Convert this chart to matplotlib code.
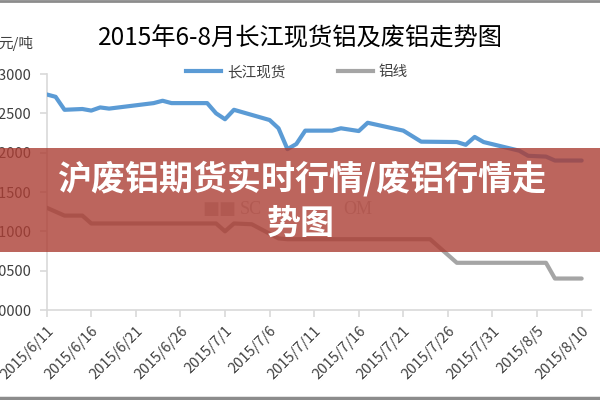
import matplotlib
matplotlib.use("Agg")
import matplotlib.pyplot as plt
import numpy as np
from matplotlib.patches import Rectangle
from matplotlib.lines import Line2D

plt.rcParams['font.family'] = ['Noto Sans CJK SC', 'DejaVu Sans']

title = "2015年6-8月长江现货铝及废铝走势图"
unit_label = "元/吨"
banner_lines = ["沪废铝期货实时行情/废铝行情走", "势图"]

series_names = ["长江现货", "铝线"]

blue_dates = ["2015-06-11", "2015-06-12", "2015-06-13", "2015-06-15", "2015-06-16",
              "2015-06-17", "2015-06-18", "2015-06-23", "2015-06-24", "2015-06-25",
              "2015-06-29", "2015-06-30", "2015-07-01", "2015-07-02", "2015-07-06",
              "2015-07-07", "2015-07-08", "2015-07-09", "2015-07-10", "2015-07-13",
              "2015-07-14", "2015-07-16", "2015-07-17", "2015-07-21", "2015-07-23",
              "2015-07-27", "2015-07-28", "2015-07-29", "2015-07-30", "2015-08-03",
              "2015-08-04", "2015-08-06", "2015-08-07", "2015-08-10"]
blue_values = [12740, 12710, 12545, 12555, 12535, 12575, 12560, 12630, 12660, 12630,
               12630, 12500, 12425, 12545, 12415, 12310, 12045, 12110, 12280, 12280,
               12310, 12275, 12380, 12280, 12140, 12135, 12100, 12200, 12135, 12025,
               11960, 11950, 11900, 11900]

gray_dates = ["2015-06-11", "2015-06-13", "2015-06-15", "2015-06-16", "2015-06-30",
              "2015-07-01", "2015-07-02", "2015-07-04", "2015-07-07", "2015-07-08",
              "2015-07-24", "2015-07-27", "2015-08-06", "2015-08-07", "2015-08-10"]
gray_values = [11300, 11200, 11200, 11100, 11100, 11000, 11100, 11090, 10910, 10900,
               10900, 10600, 10600, 10400, 10400]

tick_dates = ["2015-06-11", "2015-06-16", "2015-06-21", "2015-06-26", "2015-07-01",
              "2015-07-06", "2015-07-11", "2015-07-16", "2015-07-21", "2015-07-26",
              "2015-07-31", "2015-08-05", "2015-08-10"]
tick_labels = ["2015/6/11", "2015/6/16", "2015/6/21", "2015/6/26", "2015/7/1",
               "2015/7/6", "2015/7/11", "2015/7/16", "2015/7/21", "2015/7/26",
               "2015/7/31", "2015/8/5", "2015/8/10"]

y_ticks = [10000, 10500, 11000, 11500, 12000, 12500, 13000]
y_tick_labels = ["10000", "10500", "11000", "11500", "12000", "12500", "13000"]

blue_color = "#5B9BD5"
gray_color = "#A5A5A5"

fig = plt.figure(figsize=(6, 4), dpi=100)
ax = fig.add_axes([0.0778, 0.225, 0.9065, 0.59])

bd = np.array(blue_dates, dtype="datetime64[D]")
gd = np.array(gray_dates, dtype="datetime64[D]")
ax.plot(bd, blue_values, color=blue_color, lw=3, solid_capstyle='round',
        solid_joinstyle='round', label=series_names[0], zorder=3)
ax.plot(gd, gray_values, color=gray_color, lw=3, solid_capstyle='round',
        solid_joinstyle='round', label=series_names[1], zorder=3)

ax.set_xlim(np.datetime64("2015-06-11"), np.datetime64("2015-08-11"))
ax.set_ylim(10000, 13000)

ax.set_xticks(np.array(tick_dates, dtype="datetime64[D]"))
ax.set_xticklabels(tick_labels, rotation=45, ha='right', va='top',
                   rotation_mode='anchor', fontsize=10.5, color="#404040")
ax.set_yticks(y_ticks)
ax.set_yticklabels(y_tick_labels, fontsize=10.5, color="#404040")

for s in ['top', 'right']:
    ax.spines[s].set_visible(False)
for s in ['left', 'bottom']:
    ax.spines[s].set_color("#D9D9D9")
    ax.spines[s].set_linewidth(1.2)
ax.tick_params(axis='both', color="#D9D9D9", length=5, width=1.2)
ax.tick_params(axis='x', pad=5)
ax.tick_params(axis='y', pad=6)

fig.text(0.5, 0.905, title, ha='center', va='center', fontsize=17.5,
         color="black")
fig.text(0.055, 0.892, unit_label, ha='right', va='center', fontsize=10.5,
         color="#404040")

handles = [Line2D([], [], color=blue_color, lw=3), Line2D([], [], color=gray_color, lw=3)]
fig.legend(handles, series_names, loc='center', bbox_to_anchor=(0.495, 0.82),
           ncol=2, frameon=False, fontsize=10.5, handlelength=2.4,
           handletextpad=0.4, columnspacing=3.6, labelcolor="#404040")

# watermark (partly hidden)
fig.text(0.337, 0.478, "■■", fontsize=13, color="#C8C8C8", ha='left', va='center',
         family=['DejaVu Sans'], zorder=1)
fig.text(0.40, 0.475, "SC", fontsize=13, color="#C8C8C8", ha='left', va='center',
         family=['Liberation Serif'], zorder=1)
fig.text(0.572, 0.475, "OM", fontsize=13, color="#C8C8C8", ha='left', va='center',
         family=['Liberation Serif'], zorder=1)

# banner
fig.patches.append(Rectangle((0, 0.37), 1, 0.26, transform=fig.transFigure,
                             facecolor=(172/255, 62/255, 52/255), alpha=0.8,
                             edgecolor='none', zorder=5))
fig.text(0.502, 0.5525, banner_lines[0], ha='center', va='center', fontsize=24.5,
         color='white', fontweight='bold', zorder=6)
fig.text(0.502, 0.4425, banner_lines[1], ha='center', va='center', fontsize=24.5,
         color='white', fontweight='bold', zorder=6)

# screenshot frame lines
fig.add_artist(Line2D([0, 1], [0.998, 0.998], transform=fig.transFigure,
                      color="#8C8C8C", lw=2))
fig.add_artist(Line2D([0, 1], [0.004, 0.004], transform=fig.transFigure,
                      color="#8C8C8C", lw=2.5))

fig.savefig("out.png", dpi=100)
